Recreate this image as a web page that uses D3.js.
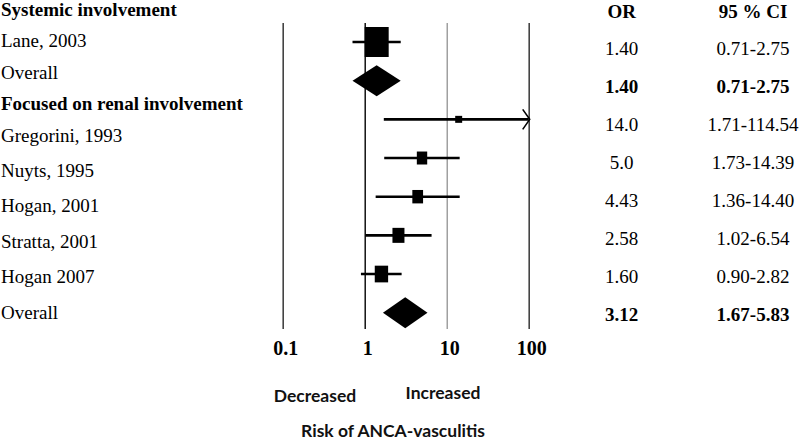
<!DOCTYPE html>
<html><head><meta charset="utf-8">
<script src="https://cdn.jsdelivr.net/npm/d3@7"></script>
<style>body{margin:0;background:#fff}svg{display:block}</style>
</head><body><svg id="c" width="800" height="442"></svg>
<script>
// ---- data ----
const rowLabels = ["Systemic involvement","Lane, 2003","Overall","Focused on renal involvement","Gregorini, 1993","Nuyts, 1995","Hogan, 2001","Stratta, 2001","Hogan 2007","Overall"];
const rowBold = [true,false,false,true,false,false,false,false,false,false];
const studies = ["Lane, 2003","Overall (systemic)","Gregorini, 1993","Nuyts, 1995","Hogan, 2001","Stratta, 2001","Hogan 2007","Overall (renal)"];
const orValues = [1.40,1.40,14.0,5.0,4.43,2.58,1.60,3.12];
const ciLow = [0.71,0.71,1.71,1.73,1.36,1.02,0.90,1.67];
const ciHigh = [2.75,2.75,114.54,14.39,14.40,6.54,2.82,5.83];
const isPooled = [false,true,false,false,false,false,false,true];
const weights = [100,null,5.4,18.7,20,25,31,null];
const orLabels = ["1.40","1.40","14.0","5.0","4.43","2.58","1.60","3.12"];
const ciLabels = ["0.71-2.75","0.71-2.75","1.71-114.54","1.73-14.39","1.36-14.40","1.02-6.54","0.90-2.82","1.67-5.83"];
const tickValues = [0.1,1,10,100];
const tickLabels = ["0.1","1","10","100"];
const colHeaders = ["OR","95 % CI"];

// ---- layout ----
const svg = d3.select("#c");
const serif = "'Liberation Serif','Times New Roman',serif";
const sans = "Lato,'Liberation Sans',Arial,sans-serif";
const x = d3.scaleLog().domain([0.1,100]).range([282.7,528.7]);
const yMark = d3.scaleLinear().domain([0, studies.length-1]).range([42, 312.7]);
const yRight = d3.scaleLinear().domain([0, studies.length-1]).range([48, 314]);
const yLabel = d3.scaleLinear().domain([0,4,9]).range([9,135,312]);
const sizeScale = d3.scaleSqrt().domain([0,100]).range([0,30]);
const plotTop = 23, plotBottom = 329;

// axis with full-height gridlines
const axis = d3.axisBottom(x).tickValues(tickValues)
  .tickFormat((d,i)=>tickLabels[i]).tickSize(-(plotBottom-plotTop)).tickPadding(12);
const ag = svg.append("g").attr("transform",`translate(0,${plotBottom})`).call(axis);
ag.select(".domain").remove();
const lineColors = ["#444","#000","#888","#444"];
const lineWidths = [1.6,1.4,1.2,1.6];
ag.selectAll(".tick line").attr("stroke",(d,i)=>lineColors[i]).attr("stroke-width",(d,i)=>lineWidths[i]);
ag.selectAll(".tick text").attr("font-family",serif).attr("font-size",20).attr("font-weight","bold").attr("fill","#000").attr("dx",2.5);

// left labels
svg.append("g").selectAll("text").data(rowLabels).join("text")
  .attr("x",1).attr("y",(d,i)=>yLabel(i)).attr("dy","0.35em")
  .attr("font-family",serif).attr("font-size",19)
  .attr("font-weight",(d,i)=>rowBold[i]?"bold":"normal")
  .text(d=>d);

// CI lines
const idx = d3.range(studies.length);
const g = svg.append("g");
const maxX = x.domain()[1];
g.selectAll("line.ci").data(idx.filter(i=>!isPooled[i])).join("line")
  .attr("class","ci")
  .attr("x1",i=>x(ciLow[i])).attr("x2",i=>x(Math.min(ciHigh[i],maxX)))
  .attr("y1",i=>yMark(i)).attr("y2",i=>yMark(i))
  .attr("stroke","#000").attr("stroke-width",2.6);
// arrows for truncated CIs
g.selectAll("path.arrow").data(idx.filter(i=>!isPooled[i] && ciHigh[i]>maxX)).join("path")
  .attr("class","arrow")
  .attr("d",i=>{const xe=x(maxX)+1, y=yMark(i); return `M${xe-7},${y-10}L${xe},${y}L${xe-7},${y+10}`;})
  .attr("fill","none").attr("stroke","#000").attr("stroke-width",1.6);
// squares
g.selectAll("rect.pt").data(idx.filter(i=>!isPooled[i])).join("rect")
  .attr("class","pt")
  .attr("x",i=>{const h=sizeScale(weights[i]); const w=h<8?h:h*0.8; return x(orValues[i])-w/2;})
  .attr("width",i=>{const h=sizeScale(weights[i]); return h<8?h:h*0.8;})
  .attr("y",i=>yMark(i)-sizeScale(weights[i])/2)
  .attr("height",i=>sizeScale(weights[i]))
  .attr("fill","#000");
// diamonds
g.selectAll("path.dia").data(idx.filter(i=>isPooled[i])).join("path")
  .attr("class","dia")
  .attr("d",i=>{const y=yMark(i),h=15.5;return `M${x(ciLow[i])},${y}L${x(orValues[i])},${y-h}L${x(ciHigh[i])},${y}L${x(orValues[i])},${y+h}Z`;})
  .attr("fill","#000");

// right columns
const colX = [621.7,753];
svg.append("g").selectAll("text").data(colHeaders).join("text")
  .attr("x",(d,i)=>colX[i]).attr("y",11).attr("dy","0.35em").attr("text-anchor","middle")
  .attr("font-family",serif).attr("font-size",19).attr("font-weight","bold").text(d=>d);
svg.append("g").selectAll("text").data(idx).join("text")
  .attr("x",colX[0]).attr("y",i=>yRight(i)).attr("dy","0.35em").attr("text-anchor","middle")
  .attr("font-family",serif).attr("font-size",19).attr("font-weight",i=>isPooled[i]?"bold":"normal")
  .text(i=>orLabels[i]);
svg.append("g").selectAll("text").data(idx).join("text")
  .attr("x",colX[1]).attr("y",i=>yRight(i)).attr("dy","0.35em").attr("text-anchor","middle")
  .attr("font-family",serif).attr("font-size",19).attr("font-weight",i=>isPooled[i]?"bold":"normal")
  .text(i=>ciLabels[i]);

// bottom annotations
const notes = [["Decreased",315,396],["Increased",443,393],["Risk of ANCA-vasculitis",393,431]];
svg.append("g").selectAll("text").data(notes).join("text")
  .attr("x",d=>d[1]).attr("y",d=>d[2]).attr("dy","0.35em").attr("text-anchor","middle")
  .attr("font-family",sans).attr("font-size",17.5).attr("font-weight","bold").attr("fill","#111")
  .text(d=>d[0]);
</script></body></html>
